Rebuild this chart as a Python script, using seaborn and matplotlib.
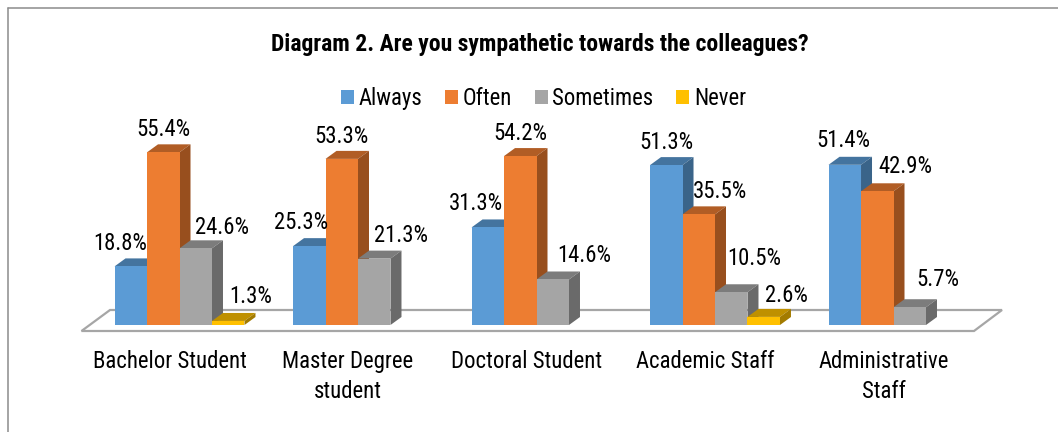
import matplotlib
matplotlib.use("Agg")
import numpy as np
import pandas as pd
import seaborn as sns
import matplotlib.pyplot as plt
from matplotlib.lines import Line2D
from matplotlib.patches import Polygon
from matplotlib.transforms import ScaledTranslation

categories = ["Bachelor Student", "Master Degree\nstudent", "Doctoral Student", "Academic Staff", "Administrative\nStaff"]
series = ["Always", "Often", "Sometimes", "Never"]
always = [18.8, 25.3, 31.3, 51.3, 51.4]
often = [55.4, 53.3, 54.2, 35.5, 42.9]
sometimes = [24.6, 21.3, 14.6, 10.5, 5.7]
never = [1.3, np.nan, np.nan, 2.6, np.nan]

front_colors = ["#5B9BD5", "#ED7D31", "#A5A5A5", "#FFC000"]
top_colors = ["#44749F", "#B15D25", "#7C7C7C", "#BF9000"]
side_colors = ["#3A6489", "#984F1E", "#6A6A6A", "#A37B00"]

# label offsets from the top-centre of each bar's front face, in pixels
label_dx = [[-11, -8, -12, 0, -1], [0, 0, 0, 21, 28], [26, 27, 32, 23, 28], [22, 0, 0, 23, 0]]
label_dy = [[24, 25, 25, 24, 25], [24, 23, 24, 24, 26], [22, 24, 25, 35, 29], [25, 0, 0, 22, 0]]

W, H = 1058, 432
FS = 16.4

sns.set_theme(style="white")
plt.rcParams["font.family"] = ["Roboto Condensed", "DejaVu Sans"]

df = pd.DataFrame({"Category": np.tile(categories, 4),
                   "Answer": np.repeat(series, 5),
                   "Percent": always + often + sometimes + never})

fig = plt.figure(figsize=(W / 100, H / 100), dpi=100)
X0, X1, Y0, Y1 = 90.25, 982.75, 325, 138  # axes box in pixels
ax = fig.add_axes([X0 / W, 1 - Y0 / H, (X1 - X0) / W, (Y0 - Y1) / H])
ax.set_zorder(2)
sns.barplot(data=df, x="Category", y="Percent", hue="Answer", order=categories, hue_order=series,
            palette=front_colors, saturation=1, width=0.728, gap=0, ax=ax, errorbar=None,
            legend=True, linewidth=0, edgecolor="none")
ax.set_xlim(-0.5, 4.5)
ax.set_ylim(0, 60)
ax.set_xlabel("")
ax.set_ylabel("")
ax.set_yticks([])
sns.despine(ax=ax, left=True, bottom=True)
ax.patch.set_alpha(0)

px_x = (X1 - X0) / 5
px_y = (Y0 - Y1) / 60
dx, dy = 11 / px_x, 8 / px_y

# floor, outer frame drawn in pixel space
def to_fig(x, y):
    return x / W, 1 - y / H
floor_px = [(81.5, 331), (974, 331), (1002, 310), (110, 310)]
fig.add_artist(Polygon([to_fig(*p) for p in floor_px], closed=True, transform=fig.transFigure,
                       facecolor="white", edgecolor="#A6A6A6", linewidth=1.6, zorder=0.5))
for xs, ys in [((8, 8), (8, 432)), ((8, 1058), (8, 8))]:
    fig.add_artist(Line2D([x / W for x in xs], [1 - y / H for y in ys], color="#8C8C8C", linewidth=1.1, zorder=0.4))

# 3-D depth from the seaborn bars, and labels
for s, cont in enumerate(ax.containers):
    for bar in cont:
        h = bar.get_height()
        if not np.isfinite(h):
            continue
        x, w = bar.get_x(), bar.get_width()
        c = int(round(x + w / 2))  # seaborn omits missing bars, so find the category by position
        z = 3 + s
        bar.set_zorder(z + 0.2)
        ax.add_patch(Polygon([(x, h), (x + w, h), (x + w + dx, h + dy), (x + dx, h + dy)], closed=True,
                             facecolor=top_colors[s], edgecolor="none", zorder=z, clip_on=False))
        ax.add_patch(Polygon([(x + w, 0), (x + w, h), (x + w + dx, h + dy), (x + w + dx, dy)], closed=True,
                             facecolor=side_colors[s], edgecolor="none", zorder=z, clip_on=False))
        ax.annotate(f"{h:.1f}%", xy=(x + w / 2, h), xytext=(label_dx[s][c] * 0.72, (label_dy[s][c] - 1) * 0.72),
                    textcoords="offset points", ha="center", va="center", fontsize=FS,
                    color="black", zorder=10, annotation_clip=False)

# category labels
ax.tick_params(axis="x", length=0, pad=18, labelsize=FS, colors="black")
shift = ScaledTranslation(-10 / 100, 0, fig.dpi_scale_trans)
for t in ax.get_xticklabels():
    t.set_transform(t.get_transform() + shift)
    t.set_linespacing(1.38)

fig.text(539.5 / W, 1 - 45 / H, "Diagram 2. Are you sympathetic towards the colleagues?", ha="center", va="center",
         fontsize=17, fontweight="bold", color="black")

leg = ax.legend(loc="center", bbox_to_anchor=(543.5 / W, 1 - 98.5 / H), bbox_transform=fig.transFigure, ncols=4,
                frameon=False, fontsize=FS, handlelength=0.57, handleheight=0.57, handletextpad=0.2,
                columnspacing=1.0, borderpad=0, borderaxespad=0)
for t in leg.get_texts():
    t.set_color("black")

fig.savefig("out.png", dpi=100, facecolor="white")
